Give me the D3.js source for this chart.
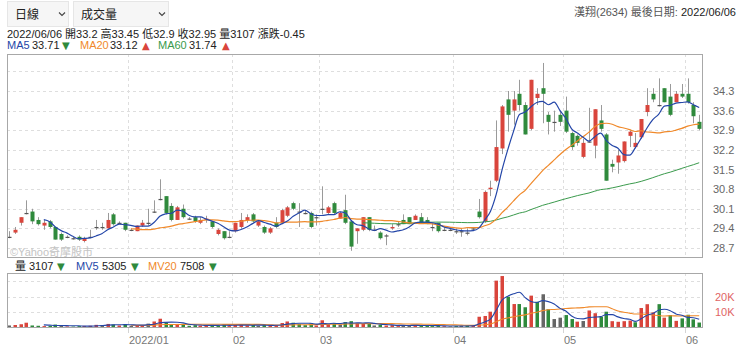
<!DOCTYPE html>
<html><head><meta charset="utf-8">
<script src="https://cdn.jsdelivr.net/npm/d3@7"></script>
<style>
body{margin:0;background:#fff;}
svg{font-family:"Liberation Sans",Arial,"Noto Sans CJK TC",sans-serif;}
</style></head>
<body><svg id="c" width="740" height="351"></svg>
<script>
// ---------------- DATA ----------------
const dates = [
"2021/12/02","2021/12/03","2021/12/06","2021/12/07","2021/12/08","2021/12/09","2021/12/10","2021/12/13","2021/12/14","2021/12/15",
"2021/12/16","2021/12/17","2021/12/20","2021/12/21","2021/12/22","2021/12/23","2021/12/24","2021/12/27","2021/12/28","2021/12/29",
"2021/12/30","2022/01/03","2022/01/04","2022/01/05","2022/01/06","2022/01/07","2022/01/10","2022/01/11","2022/01/12","2022/01/13",
"2022/01/14","2022/01/17","2022/01/18","2022/01/19","2022/01/20","2022/01/21","2022/01/24","2022/01/25","2022/01/26","2022/02/07",
"2022/02/08","2022/02/09","2022/02/10","2022/02/11","2022/02/14","2022/02/15","2022/02/16","2022/02/17","2022/02/18","2022/02/21",
"2022/02/22","2022/02/23","2022/02/24","2022/02/25","2022/03/01","2022/03/02","2022/03/03","2022/03/04","2022/03/07","2022/03/08",
"2022/03/09","2022/03/10","2022/03/11","2022/03/14","2022/03/15","2022/03/16","2022/03/17","2022/03/18","2022/03/21","2022/03/22",
"2022/03/23","2022/03/24","2022/03/25","2022/03/28","2022/03/29","2022/03/30","2022/03/31","2022/04/01","2022/04/06","2022/04/07",
"2022/04/08","2022/04/11","2022/04/12","2022/04/13","2022/04/14","2022/04/15","2022/04/18","2022/04/19","2022/04/20","2022/04/21",
"2022/04/22","2022/04/25","2022/04/26","2022/04/27","2022/04/28","2022/04/29","2022/05/03","2022/05/04","2022/05/05","2022/05/06",
"2022/05/09","2022/05/10","2022/05/11","2022/05/12","2022/05/13","2022/05/16","2022/05/17","2022/05/18","2022/05/19","2022/05/20",
"2022/05/23","2022/05/24","2022/05/25","2022/05/26","2022/05/27","2022/05/30","2022/05/31","2022/06/01","2022/06/02","2022/06/06"];

const open = [
29.10,29.25,29.60,29.95,30.00,29.70,29.50,29.65,29.45,29.20,
29.10,29.05,29.10,28.95,29.10,29.45,29.45,29.40,29.90,29.60,
29.60,29.35,29.30,29.50,29.60,30.00,30.45,30.55,30.20,29.70,
30.10,29.75,29.80,29.60,29.70,29.65,29.20,29.30,29.10,29.30,
29.45,29.70,29.90,29.50,29.45,29.25,29.60,29.60,29.85,30.30,
30.00,29.95,29.95,29.80,30.10,29.95,30.30,29.75,30.05,29.65,
29.30,29.35,29.80,29.35,29.25,29.15,29.40,29.55,29.70,29.80,
29.70,29.80,29.70,29.45,29.60,29.35,29.35,29.30,29.30,29.25,
29.40,30.00,29.65,30.80,31.10,32.25,34.00,33.60,34.20,33.80,
32.95,34.05,34.40,33.45,33.20,33.45,33.60,32.80,32.70,31.95,
32.50,32.35,33.25,32.75,31.70,31.75,31.80,32.70,32.30,32.65,
33.55,34.20,33.80,34.40,34.10,33.90,34.20,34.20,33.80,33.20];
const high = [
29.30,29.45,29.80,30.40,30.10,29.80,29.70,29.70,29.45,29.25,
29.15,29.10,29.15,29.10,29.35,29.70,29.60,29.95,29.95,29.65,
29.60,29.40,29.50,29.70,30.10,30.40,31.15,30.55,30.30,30.20,
30.25,29.80,29.85,29.80,29.85,29.65,29.40,29.30,29.30,29.60,
29.95,29.90,29.95,29.70,29.50,29.45,29.80,30.10,30.20,30.35,
30.30,30.05,30.00,29.90,30.90,30.20,30.35,30.00,30.60,29.70,
29.40,29.80,29.80,29.50,29.30,29.20,29.55,29.65,29.90,29.80,
29.90,29.95,29.80,29.60,29.60,29.45,29.45,29.40,29.40,29.40,
29.45,30.45,30.75,31.10,33.25,33.80,34.30,34.30,34.70,33.90,
34.70,34.40,35.30,33.55,33.60,33.60,34.10,32.85,32.75,32.60,
33.70,33.65,33.80,32.80,31.85,32.20,32.50,32.90,32.80,33.30,
34.40,34.40,34.75,34.40,34.55,34.30,34.55,34.75,33.90,33.45];
const low = [
29.05,29.20,29.50,29.90,29.55,29.50,29.35,29.40,29.00,28.95,
29.05,29.00,28.95,28.90,29.05,29.35,29.35,29.40,29.50,29.55,
29.30,29.30,29.30,29.45,29.50,29.95,30.40,29.90,29.65,29.70,
29.75,29.70,29.60,29.55,29.60,29.40,29.15,29.00,29.05,29.25,
29.40,29.60,29.60,29.45,29.20,29.20,29.40,29.55,29.80,30.05,
29.45,29.90,29.40,29.50,29.90,29.90,29.90,29.75,29.55,28.60,
28.85,29.30,29.30,29.30,29.00,28.80,29.35,29.45,29.55,29.55,
29.70,29.60,29.55,29.30,29.25,29.30,29.30,29.20,29.10,29.15,
29.30,29.75,29.60,30.55,31.05,32.05,32.85,33.10,33.60,32.75,
32.90,33.80,33.15,32.75,32.85,33.05,32.80,32.20,32.35,31.90,
32.45,31.90,32.85,31.10,31.40,31.35,31.75,32.30,32.25,32.60,
33.40,33.90,33.75,33.90,33.40,33.90,34.05,33.85,33.15,32.90];
const close = [
29.10,29.35,29.80,29.95,29.65,29.55,29.60,29.45,29.00,29.00,
29.10,29.05,29.00,29.05,29.10,29.45,29.45,29.70,29.55,29.60,
29.35,29.35,29.50,29.60,29.60,30.00,30.45,29.95,29.70,30.15,
29.80,29.75,29.65,29.70,29.75,29.45,29.35,29.05,29.10,29.60,
29.70,29.80,29.65,29.65,29.25,29.40,29.45,30.05,30.15,30.10,
30.00,29.95,29.45,29.80,30.10,30.15,29.95,29.95,29.60,28.75,
29.40,29.80,29.35,29.35,29.05,29.15,29.45,29.55,29.55,29.55,
29.85,29.60,29.55,29.45,29.30,29.35,29.35,29.30,29.30,29.25,
29.40,29.80,30.70,30.85,32.30,33.75,33.45,34.00,33.80,32.75,
34.70,34.20,34.20,33.20,33.20,33.20,32.85,32.30,32.45,32.45,
32.50,33.65,32.95,31.10,31.60,32.00,32.50,32.85,32.45,33.30,
33.80,34.00,33.80,33.90,33.45,34.20,34.10,33.90,33.40,32.95];
const volume = [
1200,1500,2000,3000,1200,1000,800,1000,1800,1200,
600,500,800,900,1000,1600,1400,2200,1800,1200,
2000,1000,1500,1400,2400,3800,5600,3000,2000,2200,
1600,1000,1400,1200,1000,1600,1200,1800,800,1500,
1800,1200,1600,1000,1400,1200,1300,2800,3800,3000,
2200,1400,2600,1200,4600,2000,2600,1800,3400,4000,
2600,2400,2600,1200,1600,1200,1400,800,1200,1400,
1600,1000,900,800,1200,700,600,800,1000,1200,
1000,6900,7400,10200,30500,33500,20000,15200,15200,13100,
20700,16700,21600,11800,5400,6300,8000,5400,3700,4100,
11000,9200,7000,10200,4000,3600,4000,4400,3300,12600,
15100,9800,15135,6300,8000,4210,5820,8200,5188,3107];

const priceTicks = [28.7,29.4,30.1,30.8,31.5,32.2,32.9,33.6,34.3];
const priceGrid  = [28.7,29.4,30.1,30.8,31.5,32.2,32.9,33.6,34.3,35.0];
const volTicks   = [10000,20000];
const volGrid    = [10000,20000,30000];
const monthTickDates  = ["2022/01/03","2022/02/07","2022/03/01","2022/04/01","2022/05/03","2022/06/01"];
const monthTickLabels = ["2022/01","02","03","04","05","06"];
const stockName = "漢翔(2634)";
const lastDateLabel = "最後日期: ";
const periodLabel = "日線", indicatorLabel = "成交量";

// ---------------- HELPERS ----------------
function ma(arr, n, start){
  return arr.map((v,i)=>{
    if(i < n-1+start) return null;
    let s=0; for(let k=i-n+1;k<=i;k++) s+=arr[k];
    return s/n;
  });
}
const MA_START = 2;
const ma5 = ma(close,5,MA_START), ma20 = ma(close,20,MA_START), ma60 = ma(close,60,MA_START);
const mv5 = ma(volume,5,MA_START), mv20 = ma(volume,20,MA_START);

const RED="#d9453c", GREEN="#2f8a3c", GRAY="#666";
const C_MA5="#2446a8", C_MA20="#f0892a", C_MA60="#3a9a4c";

const svg = d3.select("#c");
const P = {l:7, r:703, t:54, b:258};
const V = {t:273, b:327};
const N = dates.length;
const x = d3.scaleBand().domain(dates).range([6.1, 6.1+5.8*N]);
const cx = d => x(d) + x.bandwidth()/2;
const y = d3.scaleLinear().domain([28.7,34.3]).range([248,91]);
const yv = d3.scaleLinear().domain([0,20000]).range([327.3,296.7]);

const defs = svg.append("defs");
defs.append("clipPath").attr("id","cm").append("rect").attr("x",P.l).attr("y",P.t).attr("width",P.r-P.l).attr("height",P.b-P.t);
defs.append("clipPath").attr("id","cv").append("rect").attr("x",P.l).attr("y",V.t).attr("width",P.r-P.l).attr("height",V.b-V.t);

// ---------------- HEADER ----------------
const hdr = svg.append("g");
function dropdown(x0,w,label){
  hdr.append("rect").attr("x",x0+0.5).attr("y",1.5).attr("width",w).attr("height",25).attr("fill","#f6f6f6").attr("stroke","#e6e6e6");
  hdr.append("text").attr("x",x0+8).attr("y",19).attr("font-size",12).attr("fill","#222").text(label);
  const cxv = x0+w-6;
  hdr.append("path").attr("d",`M${cxv-3},${12.5}L${cxv},${15.5}L${cxv+3},${12.5}`).attr("fill","none").attr("stroke","#444").attr("stroke-width",1.1);
}
dropdown(7,61,periodLabel);
dropdown(73,95,indicatorLabel);

const L = N-1;
const num = v => String(+v.toFixed(2));
const chg = close[L]-close[L-1];
hdr.append("text").attr("x",7).attr("y",38).attr("font-size",11).attr("fill","#222")
  .text(`${dates[L]} 開${num(open[L])} 高${num(high[L])} 低${num(low[L])} 收${num(close[L])} 量${volume[L]} 漲跌${num(chg)}`);

const tr = hdr.append("text").attr("x",736).attr("y",16).attr("font-size",11).attr("text-anchor","end");
tr.append("tspan").attr("fill","#555").text(stockName+"   "+lastDateLabel);
tr.append("tspan").attr("fill","#222").text(dates[L]);

function tri(a, b){ return a < b ? ["▼",GREEN] : ["▲",RED]; }
function legendItem(g, items, yb){
  items.forEach(it=>{
    g.append("text").attr("x",it.x).attr("y",yb).attr("font-size",it.fs||11).attr("fill",it.c)
      .attr("font-family",it.fs?"DejaVu Sans":null).text(it.t);
  });
}
const t5 = tri(ma5[L],ma5[L-1]), t20 = tri(ma20[L],ma20[L-1]), t60 = tri(ma60[L],ma60[L-1]);
legendItem(hdr,[
  {x:7,t:"MA5",c:C_MA5},{x:32,t:ma5[L].toFixed(2),c:"#222"},{x:62,t:t5[0],c:t5[1],fs:10},
  {x:80,t:"MA20",c:C_MA20},{x:110,t:ma20[L].toFixed(2),c:"#222"},{x:142,t:t20[0],c:t20[1],fs:10},
  {x:158,t:"MA60",c:C_MA60},{x:189,t:ma60[L].toFixed(2),c:"#222"},{x:222,t:t60[0],c:t60[1],fs:10}
],49);

// ---------------- MAIN PANEL ----------------
const gm = svg.append("g");
gm.selectAll(".hg").data(priceGrid).join("line")
  .attr("x1",P.l).attr("x2",P.r).attr("y1",d=>Math.round(y(d))+0.5).attr("y2",d=>Math.round(y(d))+0.5)
  .attr("stroke","#dedede").attr("stroke-dasharray","3,3");
gm.selectAll(".vg").data(monthTickDates).join("line")
  .attr("x1",d=>Math.round(x(d))+0.5).attr("x2",d=>Math.round(x(d))+0.5).attr("y1",P.t).attr("y2",P.b)
  .attr("stroke","#dedede").attr("stroke-dasharray","3,3");

svg.append("text").attr("x",10).attr("y",256).attr("font-size",11).attr("fill","#c4c4c4").text("©Yahoo奇摩股市");

const plot = svg.append("g").attr("clip-path","url(#cm)");
const idx = d3.range(N);
plot.selectAll(".wick").data(idx).join("line")
  .attr("x1",i=>Math.round(cx(dates[i]))+0.5).attr("x2",i=>Math.round(cx(dates[i]))+0.5)
  .attr("y1",i=>y(high[i])).attr("y2",i=>y(low[i]))
  .attr("stroke","#9a9a9a").attr("stroke-width",1);
plot.selectAll(".body").data(idx).join("rect")
  .attr("x",i=>Math.round(cx(dates[i]))-1.5).attr("width",4)
  .attr("y",i=>y(Math.max(open[i],close[i])))
  .attr("height",i=>Math.max(1.2, Math.abs(y(open[i])-y(close[i]))))
  .attr("fill",i=>close[i]>open[i]?RED:(close[i]<open[i]?GREEN:"#555"));

const line = d3.line().defined(d=>d.v!=null).x(d=>cx(d.d)).y(d=>y(d.v)).curve(d3.curveMonotoneX);
[[ma60,C_MA60,1],[ma20,C_MA20,1.2],[ma5,C_MA5,1.2]].forEach(([arr,c,w])=>{
  plot.append("path").datum(arr.map((v,i)=>({d:dates[i],v})))
    .attr("d",line).attr("fill","none").attr("stroke",c).attr("stroke-width",w);
});

svg.append("rect").attr("x",P.l+0.5).attr("y",P.t+0.5).attr("width",P.r-P.l-1).attr("height",P.b-P.t-1)
  .attr("fill","none").attr("stroke","#a8a8a8");

svg.append("g").selectAll("text").data(priceTicks).join("text")
  .attr("x",713).attr("y",d=>y(d)+4).attr("font-size",11).attr("fill","#666").text(d=>d.toFixed(1));

// ---------------- VOLUME PANEL ----------------
const tv5 = tri(mv5[L],mv5[L-1]), tv20 = tri(mv20[L],mv20[L-1]), tvv = tri(volume[L],volume[L-1]);
legendItem(svg.append("g"),[
  {x:15,t:"量",c:"#222"},{x:29,t:String(volume[L]),c:"#222"},{x:57,t:tvv[0],c:tvv[1],fs:10},
  {x:76,t:"MV5",c:C_MA5},{x:102,t:String(Math.round(mv5[L])),c:"#222"},{x:131,t:tv5[0],c:tv5[1],fs:10},
  {x:148,t:"MV20",c:C_MA20},{x:180,t:String(Math.round(mv20[L])),c:"#222"},{x:209,t:tv20[0],c:tv20[1],fs:10}
],270);

const gv = svg.append("g");
gv.selectAll(".hg").data(volGrid).join("line")
  .attr("x1",P.l).attr("x2",P.r).attr("y1",d=>Math.round(yv(d))+0.5).attr("y2",d=>Math.round(yv(d))+0.5)
  .attr("stroke","#dedede").attr("stroke-dasharray","3,3");
gv.selectAll(".vg").data(monthTickDates).join("line")
  .attr("x1",d=>Math.round(x(d))+0.5).attr("x2",d=>Math.round(x(d))+0.5).attr("y1",V.t).attr("y2",V.b)
  .attr("stroke","#dedede").attr("stroke-dasharray","3,3");
gv.selectAll(".tk").data(monthTickDates).join("line")
  .attr("x1",d=>Math.round(x(d))+0.5).attr("x2",d=>Math.round(x(d))+0.5).attr("y1",V.b).attr("y2",V.b+6)
  .attr("stroke","#d4d4d4");

const vplot = svg.append("g").attr("clip-path","url(#cv)");
vplot.selectAll("rect").data(idx).join("rect")
  .attr("x",i=>Math.round(cx(dates[i]))-1.5).attr("width",3.5)
  .attr("y",i=>yv(volume[i])).attr("height",i=>yv(0)-yv(volume[i]))
  .attr("fill",i=>{const p = i>0?close[i-1]:open[i]; return close[i]>p?RED:(close[i]<p?GREEN:GRAY);});
const vline = d3.line().defined(d=>d.v!=null).x(d=>cx(d.d)).y(d=>yv(d.v)).curve(d3.curveMonotoneX);
[[mv20,C_MA20],[mv5,C_MA5]].forEach(([arr,c])=>{
  vplot.append("path").datum(arr.map((v,i)=>({d:dates[i],v})))
    .attr("d",vline).attr("fill","none").attr("stroke",c).attr("stroke-width",1.1);
});
svg.append("rect").attr("x",P.l+0.5).attr("y",V.t+0.5).attr("width",P.r-P.l-1).attr("height",V.b-V.t)
  .attr("fill","none").attr("stroke","#a8a8a8");

svg.append("g").selectAll("text").data(volTicks).join("text")
  .attr("x",715).attr("y",d=>yv(d)+4).attr("font-size",11).attr("fill","#e06464").text(d=>(d/1000)+"K");

svg.append("g").selectAll("text").data(monthTickDates).join("text")
  .attr("x",d=>Math.round(x(d))+1).attr("y",344).attr("font-size",11).attr("fill","#777")
  .text((d,i)=>monthTickLabels[i]);
</script>
</body></html>
